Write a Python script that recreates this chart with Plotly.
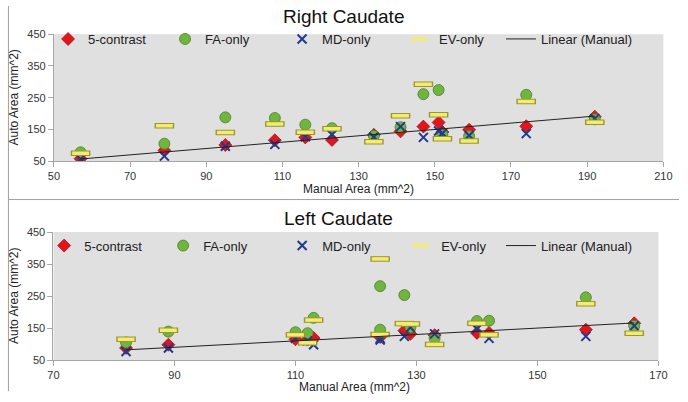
import plotly.graph_objects as go

# ---------------- data ----------------
# Right Caudate
manual_R = [57, 79, 95, 108, 116, 123, 134, 141, 147, 151, 152, 159, 174, 192]
c5_R = [58, 84, 101, 116, 125, 117, 133, 144, 159, 172, 142, 149, 160, 190]
fa_R = [78, 105, 188, 186, 165, 154, 130, 157, 261, 274, 134, 129, 259, 182]
md_R = [56, 66, 97, 103, 127, 134, 126, 159, 125, 145, 138, 131, 137, 184]
ev_R = [75, 162, 140, 167, 141, 152, 111, 193, 292, 196, 121, 114, 238, 173]

# Left Caudate
manual_L = [82, 89, 110, 112, 113, 124, 124, 128, 129, 133, 140, 142, 158, 166]
c5_L = [88, 98, 115, 114, 119, 125, 122, 142, 132, 128, 135, 135, 145, 165]
fa_L = [105, 139, 137, 134, 182, 281, 145, 253, 152, 118, 172, 173, 246, 157]
md_L = [77, 88, 118, 110, 98, 113, 118, 124, 152, 132, 147, 118, 124, 157]
ev_L = [115, 143, 129, 104, 175, 366, 130, 164, 163, 99, 165, 129, 226, 134]

x_ticks_R = [50, 70, 90, 110, 130, 150, 170, 190, 210]
x_ticks_L = [70, 90, 110, 130, 150, 170]
y_ticks = [50, 150, 250, 350, 450]

titles = ["Right Caudate", "Left Caudate"]
x_title = "Manual Area (mm^2)"
y_title = "Auto Area (mm^2)"

# ---------------- styles ----------------
RED = "#e3151c"
RED_B = "#9e0b0f"
GREEN = "#70b53e"
GREEN_B = "#4a7d28"
BLUE = "#1f3a8f"
YEL = "#f3ec72"
YEL_B = "#9c962c"
AXC = "#a6a6a6"
FONT = "Liberation Sans, Arial, sans-serif"

fig = go.Figure()


def add_panel(manual, c5, fa, md, ev, xa, ya, leg, leg_line):
    fig.add_trace(go.Scatter(x=manual, y=c5, mode="markers", name="5-contrast",
                             xaxis=xa, yaxis=ya, legend=leg,
                             marker=dict(symbol="diamond", size=10, color=RED,
                                         line=dict(color=RED_B, width=0.7))))
    fig.add_trace(go.Scatter(x=manual, y=fa, mode="markers", name="FA-only",
                             xaxis=xa, yaxis=ya, legend=leg,
                             marker=dict(symbol="circle", size=11, color=GREEN,
                                         line=dict(color=GREEN_B, width=0.8))))
    fig.add_trace(go.Scatter(x=manual, y=md, mode="markers", name="MD-only",
                             xaxis=xa, yaxis=ya, legend=leg,
                             marker=dict(symbol="x-thin", size=9, color=BLUE,
                                         line=dict(color=BLUE, width=2))))
    fig.add_trace(go.Scatter(x=manual, y=ev, mode="markers", name="EV-only",
                             xaxis=xa, yaxis=ya, legend=leg, showlegend=False,
                             hoverinfo="skip",
                             marker=dict(symbol="line-ew", size=14, color=YEL_B,
                                         line=dict(color=YEL_B, width=5.5))))
    fig.add_trace(go.Scatter(x=manual, y=ev, mode="markers", name="EV-only",
                             xaxis=xa, yaxis=ya, legend=leg,
                             marker=dict(symbol="line-ew", size=12, color=YEL,
                                         line=dict(color=YEL, width=3.5))))
    xs = [min(manual), max(manual)]
    fig.add_trace(go.Scatter(x=xs, y=xs, mode="lines", name="Linear (Manual)",
                             xaxis=xa, yaxis=ya, legend=leg_line,
                             line=dict(color="#222222", width=1)))


add_panel(manual_R, c5_R, fa_R, md_R, ev_R, "x", "y", "legend", "legend3")
add_panel(manual_L, c5_L, fa_L, md_L, ev_L, "x2", "y2", "legend2", "legend4")

W, H = 688, 402
axis_common = dict(showgrid=False, zeroline=False, showline=True, linecolor=AXC,
                   linewidth=1, ticks="outside", ticklen=5, tickcolor=AXC,
                   tickfont=dict(size=11, color="#333333", family=FONT))

top_dom_y = [1 - 160 / H, 1 - 29 / H]
bot_dom_y = [1 - 365 / H, 1 - 233 / H]


def leg(x, y, ew):
    return dict(orientation="h", x=x / W, xanchor="left", y=1 - y / H,
                yanchor="middle", bgcolor="rgba(0,0,0,0)",
                font=dict(size=13, family=FONT, color="#222222"),
                entrywidth=ew, entrywidthmode="pixels", itemclick=False,
                itemdoubleclick=False)


fig.update_layout(
    width=W, height=H,
    margin=dict(l=0, r=0, t=0, b=0),
    paper_bgcolor="white",
    plot_bgcolor="#e0e0e0",
    font=dict(family=FONT, color="#222222"),
    xaxis=dict(domain=[49 / W, 672 / W], range=[50, 210], tickvals=x_ticks_R,
               anchor="y", **axis_common),
    yaxis=dict(domain=top_dom_y, range=[50, 450], tickvals=y_ticks,
               anchor="x", **axis_common),
    xaxis2=dict(domain=[48.5 / W, 667 / W], range=[70, 170], tickvals=x_ticks_L,
                anchor="y2", **axis_common),
    yaxis2=dict(domain=bot_dom_y, range=[50, 450], tickvals=y_ticks,
                anchor="x2", **axis_common),
    legend=leg(43, 34, 72),
    legend2=leg(39, 247, 74),
    legend3=leg(506, 34, 0),
    legend4=leg(506, 247, 0),
    showlegend=True,
)

ann = []
ann.append(dict(text=titles[0], x=345 / W, y=1 - 11 / H, xref="paper", yref="paper",
                showarrow=False, font=dict(size=19, family=FONT, color="#111111"),
                xanchor="center", yanchor="middle"))
ann.append(dict(text=titles[1], x=340 / W, y=1 - 219 / H, xref="paper", yref="paper",
                showarrow=False, font=dict(size=19, family=FONT, color="#111111"),
                xanchor="center", yanchor="middle"))
ann.append(dict(text=x_title, x=360 / W, y=1 - 189 / H, xref="paper", yref="paper",
                showarrow=False, font=dict(size=12, family=FONT, color="#222222"),
                xanchor="center", yanchor="middle"))
ann.append(dict(text=x_title, x=356 / W, y=1 - 394 / H, xref="paper", yref="paper",
                showarrow=False, font=dict(size=12, family=FONT, color="#222222"),
                xanchor="center", yanchor="bottom", yshift=-8))
ann.append(dict(text=y_title, x=8 / W, y=sum(top_dom_y) / 2, xref="paper", yref="paper",
                showarrow=False, textangle=-90, font=dict(size=12, family=FONT, color="#222222"),
                xanchor="center", yanchor="middle"))
ann.append(dict(text=y_title, x=8 / W, y=sum(bot_dom_y) / 2, xref="paper", yref="paper",
                showarrow=False, textangle=-90, font=dict(size=12, family=FONT, color="#222222"),
                xanchor="center", yanchor="middle"))
fig.update_layout(annotations=ann)

# panel frame lines
fig.add_shape(type="line", xref="paper", yref="paper", x0=2.5 / W, x1=2.5 / W,
              y0=1 - 397 / H, y1=1, line=dict(color="#a0a0a0", width=1))
fig.add_shape(type="line", xref="paper", yref="paper", x0=2.5 / W, x1=1,
              y0=1 - 199.5 / H, y1=1 - 199.5 / H, line=dict(color="#a0a0a0", width=1))

fig.write_html("out.html", config={"displayModeBar": False},
               post_script="document.body.style.margin='0';document.body.style.overflow='hidden';")
